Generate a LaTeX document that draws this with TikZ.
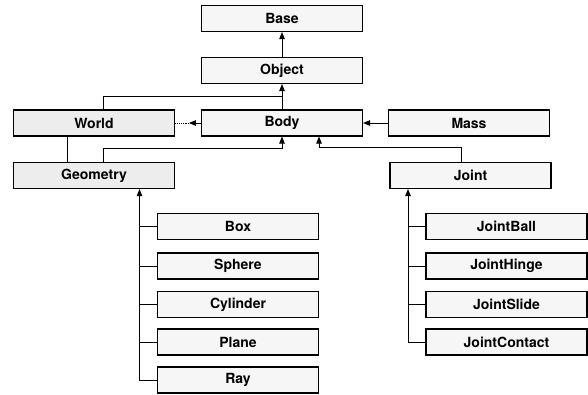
\documentclass[tikz,border=0pt]{standalone}
\usepackage{fontspec}
\setmainfont{TeX Gyre Heros}
\usetikzlibrary{arrows.meta,calc}
\begin{document}
\begin{tikzpicture}[x=1pt,y=-1pt,
  cls/.style={draw=black,line width=1.1pt,fill=gray!7,minimum width=161pt,minimum height=26pt,inner sep=0pt,font=\fontsize{14}{16}\selectfont\bfseries},
  clsd/.style={cls,fill=gray!14},
  conn/.style={line width=0.9pt},
  arr/.style={conn,-{Triangle[length=7pt,width=5.5pt]}}]
\useasboundingbox (0,0) rectangle (588,394);
\node[cls] (Base) at (282,18.5) {Base};
\node[cls] (Object) at (282,70.5) {Object};
\node[clsd] (World) at (94,123) {World};
\node[cls] (Body) at (282,123) {Body};
\node[cls] (Mass) at (469,123) {Mass};
\node[clsd] (Geometry) at (94,175.5) {Geometry};
\node[cls] (Joint) at (470.5,175.5) {Joint};
\node[cls] (Box) at (238,226.5) {Box};
\node[cls] (Sphere) at (238,266) {Sphere};
\node[cls] (Cylinder) at (238,304.5) {Cylinder};
\node[cls] (Plane) at (238,342) {Plane};
\node[cls] (Ray) at (238,380) {Ray};
\node[cls] (JointBall) at (506.5,226.5) {JointBall};
\node[cls] (JointHinge) at (506.5,266) {JointHinge};
\node[cls] (JointSlide) at (506.5,304.5) {JointSlide};
\node[cls] (JointContact) at (506.5,342) {JointContact};
% inheritance
\draw[arr] (Object) -- (Base);
\draw[arr] (Body) -- (Object);
\coordinate (wo) at ($(Body.north)!.5!(Object.south)$);
\draw[conn] ([xshift=9pt]World.north) |- (wo);
\coordinate (gb) at ($(Body.south)+(0,12)$);
\draw[arr] ([xshift=9pt]Geometry.north) |- (gb) -- (Body.south);
\coordinate (jb) at ($([xshift=37pt]Body.south)+(0,11)$);
\draw[arr] ([xshift=-9.5pt]Joint.north) |- (jb) -- ([xshift=37pt]Body.south);
% associations
\coordinate (wb) at ($(Body.west)+(-12,0)$);
\draw[conn,densely dotted] (World.east) -- (wb);
\draw[arr] (Body.west) -- (wb);
\draw[arr] (Mass.west) -- (Body.east);
\draw[conn] ([xshift=-27pt]World.south) -- ([xshift=-27pt]Geometry.north);
% geometry children
\coordinate (gt) at ([xshift=45.5pt]Geometry.south);
\draw[arr] (Ray.west) -| (gt);
\foreach \n in {Box,Sphere,Cylinder,Plane} \draw[conn] (\n.west) -- (\n.west -| gt);
% joint children
\coordinate (jt) at ([xshift=-62.5pt]Joint.south);
\draw[arr] (JointContact.west) -| (jt);
\foreach \n in {JointBall,JointHinge,JointSlide} \draw[conn] (\n.west) -- (\n.west -| jt);
\end{tikzpicture}
\end{document}
